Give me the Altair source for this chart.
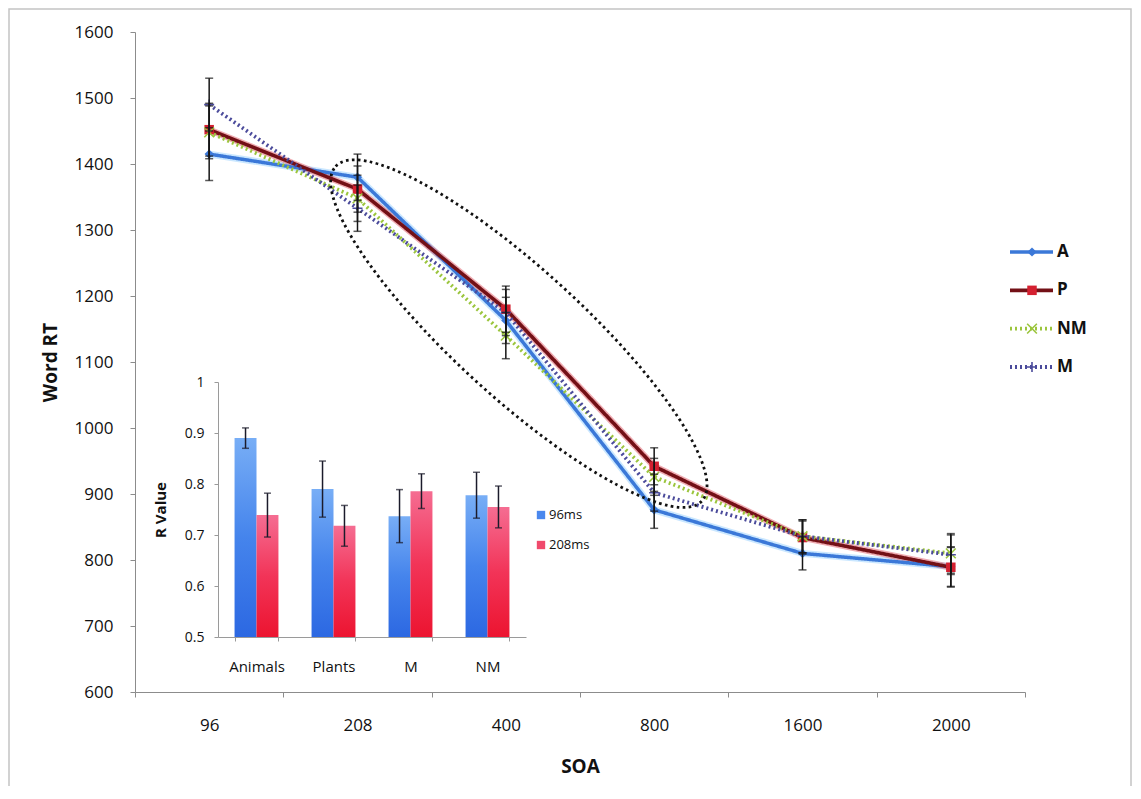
import altair as alt
import pandas as pd

# ---------------- data ----------------
soa = ["96", "208", "400", "800", "1600", "2000"]
series = ["A", "P", "NM", "M"]
rt_A = [1415, 1380, 1163, 876, 810, 790]
rt_P = [1452, 1362, 1180, 942, 834, 789]
rt_NM = [1448, 1348, 1140, 926, 836, 810]
rt_M = [1490, 1333, 1175, 902, 836, 808]
se_A = [40, 35, 35, 28, 25, 30]
se_P = [40, 35, 35, 28, 25, 30]
se_NM = [40, 35, 35, 28, 25, 30]
se_M = [40, 35, 35, 28, 25, 30]
rt_ticks = [600, 700, 800, 900, 1000, 1100, 1200, 1300, 1400, 1500, 1600]

cats = ["Animals", "Plants", "M", "NM"]
groups = ["96ms", "208ms"]
r_96 = [0.890, 0.790, 0.737, 0.778]
r_96_err = [0.020, 0.055, 0.052, 0.045]
r_208 = [0.739, 0.718, 0.786, 0.755]
r_208_err = [0.043, 0.040, 0.034, 0.041]
r_ticks = [0.5, 0.6, 0.7, 0.8, 0.9, 1.0]

highlight_soa = ["400"]
highlight_rt = [1143]

# ---------------- tables ----------------
rt = {"A": rt_A, "P": rt_P, "NM": rt_NM, "M": rt_M}
se = {"A": se_A, "P": se_P, "NM": se_NM, "M": se_M}
rows = []
for s in series:
    for i, x in enumerate(soa):
        rows.append({"soa": x, "series": s, "rt": rt[s][i],
                     "lo": rt[s][i] - se[s][i], "hi": rt[s][i] + se[s][i]})
df_main = pd.DataFrame(rows)

irows = []
for g, vals, errs in [("96ms", r_96, r_96_err), ("208ms", r_208, r_208_err)]:
    for c, v, e in zip(cats, vals, errs):
        irows.append({"cat": c, "grp": g, "r": v, "lo": v - e, "hi": v + e})
df_inset = pd.DataFrame(irows)

df_ell = pd.DataFrame({"soa": highlight_soa, "rt": highlight_rt})
df_leg = pd.DataFrame({"series": series})
df_ileg = pd.DataFrame({"grp": groups})
df_one = pd.DataFrame({"k": [0]})

# ---------------- styling ----------------
W, H = 890, 660
FONT = "Open Sans"
AXC = "#8c8c8c"

line_colors = ["#3b78d8", "#731016", "#9bc53d", "#4b4b9b"]
color_scale = alt.Scale(domain=series, range=line_colors)
dash_scale = alt.Scale(domain=series, range=[[1, 0], [1, 0], [2, 3], [2, 3]])
width_scale = alt.Scale(domain=series, range=[3.5, 3.8, 2, 2])
X_PATH = "M -1 -1 L 1 1 M -1 1 L 1 -1"
PLUS_PATH = "M -1 0 L 1 0 M 0 -1 L 0 1"
shape_scale = alt.Scale(domain=series, range=["diamond", "square", X_PATH, PLUS_PATH])
size_scale = alt.Scale(domain=series, range=[85, 100, 60, 90])
fill_scale = alt.Scale(domain=series, range=["#3b78d8", "#d42030", "#9bc53d", "#4b4b9b"])

x_axis = alt.Axis(title="SOA", tickBand="extent", labelAngle=0, labelPadding=20,
                  titlePadding=24, tickSize=5, domainColor=AXC, tickColor=AXC,
                  labelFontSize=17, titleFontSize=19, titleFontWeight="bold",
                  labelFont=FONT, titleFont=FONT, labelColor="#111", titleColor="#111")
y_axis = alt.Axis(title="Word RT", values=rt_ticks, format="d", titlePadding=14,
                  labelPadding=17, tickSize=5, domainColor=AXC, tickColor=AXC,
                  labelFontSize=17, titleFontSize=19, titleFontWeight="bold",
                  labelFont=FONT, titleFont=FONT, labelColor="#111", titleColor="#111")
x_scale = alt.Scale(type="band", domain=soa, paddingInner=0, paddingOuter=0)
y_scale = alt.Scale(domain=[600, 1600], nice=False, zero=False)


def xm():
    return alt.X("soa:N", sort=soa, scale=x_scale, axis=x_axis)


def ym(f):
    return alt.Y(f + ":Q", scale=y_scale, axis=y_axis)


base = alt.Chart(df_main)

halo_A = base.transform_filter(alt.datum.series == "A").mark_line(
    color="#9fd4ff", strokeWidth=7, opacity=0.55).encode(x=xm(), y=ym("rt"))
halo_P = base.transform_filter(alt.datum.series == "P").mark_line(
    color="#e05a66", strokeWidth=6.5, opacity=0.5).encode(x=xm(), y=ym("rt"))

lines = base.mark_line().encode(
    x=xm(), y=ym("rt"),
    color=alt.Color("series:N", scale=color_scale, legend=None),
    strokeDash=alt.StrokeDash("series:N", scale=dash_scale, legend=None),
    strokeWidth=alt.StrokeWidth("series:N", scale=width_scale, legend=None),
)

pts_filled = base.transform_filter(
    alt.FieldOneOfPredicate(field="series", oneOf=["A", "P"])
).mark_point(filled=True, opacity=1).encode(
    x=xm(), y=ym("rt"),
    shape=alt.Shape("series:N", scale=shape_scale, legend=None),
    fill=alt.Fill("series:N", scale=fill_scale, legend=None),
    size=alt.Size("series:N", scale=size_scale, legend=None),
)
pts_open = base.transform_filter(
    alt.FieldOneOfPredicate(field="series", oneOf=["NM", "M"])
).mark_point(filled=False, opacity=1, strokeWidth=1.6).encode(
    x=xm(), y=ym("rt"),
    shape=alt.Shape("series:N", scale=shape_scale, legend=None),
    stroke=alt.Stroke("series:N", scale=fill_scale, legend=None),
    size=alt.Size("series:N", scale=size_scale, legend=None),
)

err_rule = base.mark_rule(color="#151515", strokeWidth=1.5).encode(
    x=xm(), y=ym("lo"), y2="hi:Q")
err_lo = base.mark_tick(color="#151515", thickness=1.5, size=8).encode(x=xm(), y=ym("lo"))
err_hi = base.mark_tick(color="#151515", thickness=1.5, size=8).encode(x=xm(), y=ym("hi"))

ELL_PATH = ("M -1 0 C -1 -0.1425 -0.5523 -0.258 0 -0.258 "
            "C 0.5523 -0.258 1 -0.1425 1 0 "
            "C 1 0.1425 0.5523 0.258 0 0.258 "
            "C -0.5523 0.258 -1 0.1425 -1 0 Z")
ellipse = alt.Chart(df_ell).mark_point(
    shape=ELL_PATH, size=4 * 248 * 248, angle=42.4, filled=False, opacity=1,
    stroke="#111111", strokeWidth=2.8, strokeDash=[2.6, 3.4], xOffset=13,
).encode(x=xm(), y=ym("rt"))

main = alt.layer(halo_A, halo_P, lines, pts_filled, pts_open,
                 err_rule, err_lo, err_hi, ellipse)

# ---------------- inset bar chart ----------------
IAX = "#9a9a9a"
xi_axis = alt.Axis(orient="bottom", offset=-55, title=None, tickBand="extent",
                   labelAngle=0, labelPadding=18, tickSize=4, domainColor=IAX,
                   tickColor=IAX, labelFontSize=15, labelFont=FONT, labelColor="#111")
yi_axis = alt.Axis(orient="left", offset=-83, title="R Value", values=r_ticks,
                   format="~g", labelPadding=10, tickSize=4, titlePadding=16,
                   domainColor=IAX, tickColor=IAX, labelFontSize=14, titleFontSize=15,
                   titleFontWeight="bold", labelFont=FONT, titleFont=FONT,
                   labelColor="#111", titleColor="#111")
xi_scale = alt.Scale(domain=cats, range=[83, 391], paddingInner=0.43, paddingOuter=0.215)
yi_scale = alt.Scale(domain=[0.5, 1.0], range=[605, 350], nice=False, zero=False)
xo_scale = alt.Scale(domain=groups, paddingInner=0, paddingOuter=0)


def xi():
    return alt.X("cat:N", sort=cats, scale=xi_scale, axis=xi_axis)


def yi(f):
    return alt.Y(f + ":Q", scale=yi_scale, axis=yi_axis)


def xo():
    return alt.XOffset("grp:N", scale=xo_scale)


blue_grad = alt.Gradient(gradient="linear", x1=0, x2=0, y1=0, y2=1, stops=[
    alt.GradientStop(color="#78aef6", offset=0),
    alt.GradientStop(color="#4584ec", offset=0.5),
    alt.GradientStop(color="#2c68e2", offset=1)])
red_grad = alt.Gradient(gradient="linear", x1=0, x2=0, y1=0, y2=1, stops=[
    alt.GradientStop(color="#f56d92", offset=0),
    alt.GradientStop(color="#f23458", offset=0.5),
    alt.GradientStop(color="#ec1430", offset=1)])

ibase = alt.Chart(df_inset)
bars_b = ibase.transform_filter(alt.datum.grp == "96ms").mark_bar(color=blue_grad).encode(
    x=xi(), xOffset=xo(), y=yi("r"), y2=alt.datum(0.5))
bars_r = ibase.transform_filter(alt.datum.grp == "208ms").mark_bar(color=red_grad).encode(
    x=xi(), xOffset=xo(), y=yi("r"), y2=alt.datum(0.5))
ierr = ibase.mark_rule(color="#1b1b2b", strokeWidth=1.5).encode(
    x=xi(), xOffset=xo(), y=yi("lo"), y2="hi:Q")
ierr_lo = ibase.mark_tick(color="#1b1b2b", thickness=1.5, size=7).encode(
    x=xi(), xOffset=xo(), y=yi("lo"))
ierr_hi = ibase.mark_tick(color="#1b1b2b", thickness=1.5, size=7).encode(
    x=xi(), xOffset=xo(), y=yi("hi"))
inset = alt.layer(bars_b, bars_r, ierr, ierr_lo, ierr_hi)

# ---------------- main legend ----------------
yl = alt.Y("series:N", scale=alt.Scale(type="point", domain=series, range=[220, 335], padding=0),
           axis=None)
lbase = alt.Chart(df_leg)
leg_lines = lbase.mark_rule().encode(
    x=alt.value(875), x2=alt.value(918), y=yl,
    color=alt.Color("series:N", scale=color_scale, legend=None),
    strokeDash=alt.StrokeDash("series:N", scale=dash_scale, legend=None),
    strokeWidth=alt.StrokeWidth("series:N", scale=width_scale, legend=None),
)
leg_pf = lbase.transform_filter(
    alt.FieldOneOfPredicate(field="series", oneOf=["A", "P"])
).mark_point(filled=True, opacity=1).encode(
    x=alt.value(897), y=yl,
    shape=alt.Shape("series:N", scale=shape_scale, legend=None),
    fill=alt.Fill("series:N", scale=fill_scale, legend=None),
    size=alt.Size("series:N", scale=size_scale, legend=None),
)
leg_po = lbase.transform_filter(
    alt.FieldOneOfPredicate(field="series", oneOf=["NM", "M"])
).mark_point(filled=False, opacity=1, strokeWidth=1.6).encode(
    x=alt.value(897), y=yl,
    shape=alt.Shape("series:N", scale=shape_scale, legend=None),
    stroke=alt.Stroke("series:N", scale=fill_scale, legend=None),
    size=alt.Size("series:N", scale=size_scale, legend=None),
)
leg_txt = lbase.mark_text(align="left", baseline="middle", font=FONT, fontSize=17,
                          fontWeight="bold", color="#111").encode(
    x=alt.value(922), y=yl, text="series:N")
frame = alt.Chart(df_one).mark_rect(fill="transparent", stroke="#c4c4c4", strokeWidth=1.5).encode(
    x=alt.value(-126), x2=alt.value(W + 106), y=alt.value(-23), y2=alt.value(H + 120))
legend_main = alt.layer(frame, leg_lines, leg_pf, leg_po, leg_txt)

# ---------------- inset legend ----------------
yil = alt.Y("grp:N", scale=alt.Scale(type="point", domain=groups, range=[483, 513], padding=0),
            axis=None)
ilbase = alt.Chart(df_ileg)
ileg_sq = ilbase.mark_square(size=70, opacity=1).encode(
    x=alt.value(406), y=yil,
    color=alt.Color("grp:N", scale=alt.Scale(domain=groups, range=["#4a88ee", "#f04a6c"]),
                    legend=None))
ileg_txt = ilbase.mark_text(align="left", baseline="middle", font=FONT, fontSize=13,
                            color="#111").encode(x=alt.value(414), y=yil, text="grp:N")
legend_inset = alt.layer(ileg_sq, ileg_txt)

chart = alt.layer(main, inset, legend_main, legend_inset).resolve_scale(
    x="independent", y="independent", color="independent", shape="independent",
    size="independent", strokeDash="independent", strokeWidth="independent",
    fill="independent", stroke="independent",
).properties(
    width=W, height=H,
    autosize=alt.AutoSizeParams(type="none"),
    padding={"left": 127, "top": 24, "right": 108, "bottom": 94},
    background="white",
).configure_view(strokeWidth=0).configure_axis(grid=False)

chart.save("out.html", embed_options={"renderer": "svg", "actions": False})
